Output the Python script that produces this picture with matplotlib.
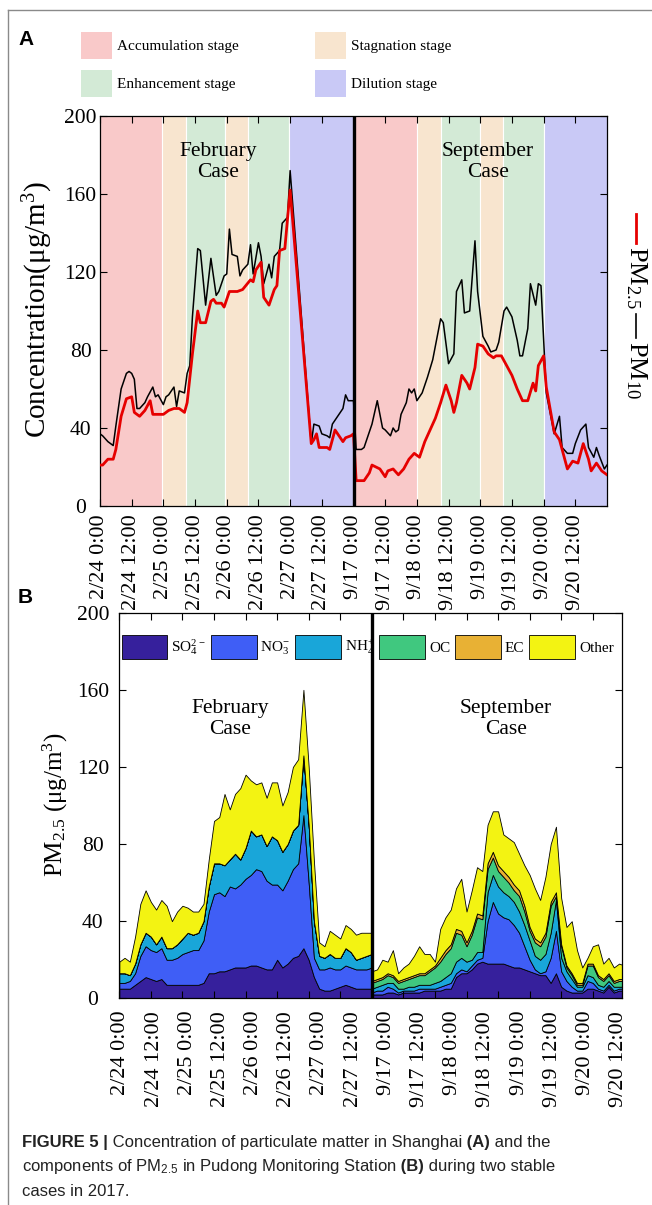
import numpy as np
import matplotlib
matplotlib.use('Agg')
import matplotlib.pyplot as plt
from matplotlib import font_manager
from matplotlib.patches import Patch
from matplotlib.lines import Line2D

W, H = 652, 1205

plt.rcParams['font.family'] = ['Liberation Serif', 'DejaVu Serif']
plt.rcParams['mathtext.default'] = 'regular'

# hour 0 = 2/24 0:00, hour 96 = 9/17 0:00 (two cases glued together)
tick_labels = ['2/24 0:00', '2/24 12:00', '2/25 0:00', '2/25 12:00', '2/26 0:00',
               '2/26 12:00', '2/27 0:00', '2/27 12:00', '9/17 0:00', '9/17 12:00',
               '9/18 0:00', '9/18 12:00', '9/19 0:00', '9/19 12:00', '9/20 0:00',
               '9/20 12:00']

# ---- panel A: PM10 / PM2.5 concentration
pm10_h = [0, 1, 3, 5, 6, 8, 9, 10, 11, 12, 13, 14, 15, 17, 18, 20, 21, 22, 24, 25,
          26, 28, 29, 30, 32, 33, 34, 35, 37, 38, 40, 42, 44, 45, 47, 48, 49, 50, 52, 53,
          54, 56, 57, 58, 60, 61, 62, 64, 65, 66, 68, 69, 71, 72, 80, 81, 83, 84, 86, 87,
          88, 90, 92, 93, 94, 96,
          97, 99, 100, 101, 103, 105, 106, 107, 108, 110, 111, 112, 113, 114, 116, 117,
          118, 119, 120, 122, 124, 126, 127, 129, 130, 132, 134, 135, 137, 138, 140, 141,
          142, 143, 145, 147, 148, 150, 151, 153, 154, 156, 158, 159, 160, 162, 163, 165,
          166, 167, 169, 172, 174, 175, 177, 179, 180, 182, 184, 185, 187, 188, 189, 191, 192]
pm10 = [37, 36, 33, 31, 41, 60, 64, 68, 69, 68, 65, 50, 50, 53, 56, 61, 56, 57, 52, 56,
        57, 61, 51, 59, 58, 68, 72, 97, 132, 131, 103, 127, 108, 110, 118, 119, 142, 129, 128, 118,
        121, 124, 134, 119, 135, 128, 114, 124, 117, 128, 131, 145, 148, 172, 32, 42, 41, 37, 36, 35,
        42, 46, 50, 57, 54, 54,
        29, 29, 30, 34, 42, 54, 47, 40, 39, 36, 40, 38, 39, 47, 53, 60,
        58, 60, 54, 58, 66, 75, 82, 96, 94, 73, 78, 110, 116, 99, 100, 118,
        136, 110, 87, 82, 79, 80, 84, 100, 102, 97, 85, 77, 77, 91, 114, 103,
        114, 113, 58, 37, 46, 30, 27, 27, 32, 39, 42, 30, 25, 30, 26, 19, 21]

pm25_h = [0, 1, 3, 5, 6, 8, 10, 12, 13, 15, 17, 19, 20, 22, 24, 26, 28, 30, 32, 33,
          35, 37, 38, 40, 42, 43, 44, 46, 47, 49, 52, 54, 57, 58, 59, 61, 62, 64, 66, 67,
          68, 70, 72, 80, 81, 82, 83, 85, 86, 87, 89, 90, 92, 93, 95, 96,
          97, 100, 102, 103, 106, 108, 109, 111, 113, 115, 117, 119, 121, 123, 125, 127,
          129, 131, 133, 134, 135, 137, 139, 140, 142, 143, 145, 147, 149, 150, 152, 154,
          156, 158, 160, 162, 164, 165, 166, 168, 169, 172, 174, 177, 179, 181, 183, 185,
          186, 188, 190, 192]
pm25 = [21, 21, 24, 24, 29, 46, 55, 56, 48, 46, 49, 54, 47, 47, 47, 49, 50, 50, 48, 53,
        78, 100, 94, 94, 105, 106, 104, 104, 102, 110, 110, 111, 116, 115, 121, 125, 107, 103, 111, 113,
        131, 132, 162, 32, 34, 37, 30, 30, 30, 29, 39, 37, 33, 35, 36, 37,
        13, 13, 17, 21, 19, 15, 18, 19, 16, 19, 24, 27, 25, 33, 39, 45,
        53, 62, 54, 48, 53, 67, 63, 60, 71, 83, 82, 78, 76, 77, 77, 72,
        67, 60, 54, 54, 63, 59, 72, 77, 61, 38, 34, 19, 23, 22, 32, 24,
        18, 22, 18, 16]

stage_start = [0, 23.5, 32.5, 47.5, 56, 71.5, 96, 120, 129, 144, 152.5, 168]
stage_end = [23.5, 32.5, 47.5, 56, 71.5, 96, 120, 129, 144, 152.5, 168, 192]
stage_kind = ['acc', 'stag', 'enh', 'stag', 'enh', 'dil'] * 2
stage_colors = {'acc': '#f9c9c9', 'stag': '#f8e5cf', 'enh': '#d3ead6', 'dil': '#c9c9f6'}
stage_names = {'acc': 'Accumulation stage', 'enh': 'Enhancement stage',
               'stag': 'Stagnation stage', 'dil': 'Dilution stage'}

# ---- panel B: PM2.5 components, every 2 h
feb_hours = np.arange(0, 97, 2)
sep_hours = np.arange(96, 193, 2)

feb_so4 = [5, 5, 5, 7, 9, 11, 10, 9, 10, 7, 7, 7, 7, 7, 7, 7, 8, 13, 13, 14, 14, 15, 16, 16,
           16, 17, 17, 16, 15, 15, 20, 16, 18, 21, 22, 26, 20, 11, 5, 4, 4, 5, 6, 7, 6, 5, 5, 5, 5]
feb_no3 = [3, 3, 4, 6, 13, 16, 15, 15, 16, 13, 13, 14, 16, 17, 18, 18, 22, 32, 41, 41, 39, 43, 41, 43,
           46, 47, 50, 50, 46, 44, 39, 40, 43, 46, 48, 69, 40, 10, 10, 11, 12, 10, 9, 10, 10, 10, 10, 10, 11]
feb_nh4 = [5, 5, 3, 5, 6, 7, 7, 4, 6, 6, 6, 7, 8, 10, 8, 9, 10, 13, 16, 15, 16, 14, 18, 13,
           16, 23, 17, 19, 18, 25, 23, 20, 19, 20, 20, 31, 30, 19, 7, 6, 7, 6, 6, 9, 8, 5, 6, 7, 7]
feb_oc = [0] * 49
feb_ec = [0] * 49
feb_other = [6, 8, 7, 14, 21, 22, 18, 18, 19, 22, 14, 17, 17, 13, 12, 11, 9, 14, 22, 24, 37, 26, 31, 37,
             38, 26, 27, 27, 25, 28, 30, 24, 27, 33, 34, 34, 30, 31, 7, 6, 12, 12, 10, 12, 12, 13, 13, 12, 11]

sep_so4 = [2, 2, 2, 3, 3, 2, 3, 3, 3, 3, 4, 4, 4, 4, 5, 5, 11, 13, 13, 15, 18, 19, 18, 18,
           18, 18, 17, 16, 16, 15, 14, 13, 12, 12, 8, 13, 6, 4, 3, 3, 3, 5, 5, 4, 3, 6, 3, 4, 4]
sep_no3 = [1, 2, 2, 3, 2, 1, 1, 1, 1, 2, 1, 1, 1, 2, 2, 3, 2, 2, 1, 2, 2, 2, 22, 32,
           26, 24, 24, 22, 18, 12, 6, 2, 1, 2, 13, 22, 8, 5, 3, 1, 1, 4, 3, 1, 1, 1, 1, 1, 1]
sep_nh4 = [2, 2, 3, 2, 3, 2, 1, 2, 2, 2, 2, 2, 3, 3, 4, 5, 6, 6, 5, 3, 4, 3, 15, 14,
           14, 13, 12, 12, 11, 11, 10, 7, 7, 9, 13, 16, 7, 5, 4, 2, 2, 3, 3, 2, 2, 2, 2, 1, 1]
sep_oc = [3, 3, 3, 4, 3, 3, 4, 4, 5, 5, 5, 7, 8, 10, 12, 13, 15, 12, 8, 13, 18, 17, 12, 9,
          8, 8, 7, 6, 8, 7, 5, 7, 7, 9, 14, 2, 6, 2, 2, 1, 1, 5, 6, 4, 3, 3, 2, 3, 3]
sep_ec = [1] * 13 + [2] * 9 + [3] * 8 + [2] * 6 + [1] * 13
sep_other = [5, 5, 9, 6, 13, 4, 6, 7, 10, 14, 10, 8, 2, 15, 17, 18, 21, 27, 16, 21, 24, 23, 20, 21,
             28, 19, 20, 22, 19, 21, 27, 26, 22, 29, 30, 34, 24, 20, 27, 17, 8, 3, 9, 16, 8, 8, 7, 8, 7]

comp_labels = [r'SO$_4^{2-}$', r'NO$_3^{-}$', r'NH$_4^{+}$', 'OC', 'EC', 'Other']
comp_colors = ['#36209c', '#3f5ef6', '#19a6d9', '#40c87f', '#e8b134', '#f3f312']


def fx(px):
    return px / W


def fy(py):
    return 1 - py / H


fig = plt.figure(figsize=(W / 100, H / 100), dpi=100)

# page frame of the figure box
fig.add_artist(Line2D([fx(8), fx(8)], [fy(10), 0], color='#8a8a8a', lw=1))
fig.add_artist(Line2D([fx(8), 1], [fy(10), fy(10)], color='#8a8a8a', lw=1))

fig.text(fx(18), fy(45), 'A', fontsize=15, fontweight='bold', family='Liberation Sans', va='baseline')
fig.text(fx(18), fy(603), 'B', fontsize=15, fontweight='bold', family='Liberation Sans', va='baseline')

# ------------------------------------------------------------------ panel A
axa = fig.add_axes([fx(100), fy(506), (607 - 100) / W, (506 - 116) / H])
for a, b, k in zip(stage_start, stage_end, stage_kind):
    axa.axvspan(a, b, facecolor=stage_colors[k], edgecolor='white', lw=0.8, zorder=0)
axa.plot(pm10_h, pm10, color='black', lw=1.1, zorder=3)
axa.plot(pm25_h, pm25, color='#e60000', lw=2.0, zorder=3)
axa.axvline(96, color='black', lw=2.4, zorder=4)
axa.set_xlim(0, 192)
axa.set_ylim(0, 200)
axa.set_yticks(np.arange(0, 201, 40))
axa.set_xticks(np.arange(0, 192, 12), tick_labels, rotation=90)
axa.tick_params(direction='in', top=True, right=True, length=5, width=0.8)
axa.tick_params(axis='y', labelsize=15.5, pad=14)
axa.tick_params(axis='x', labelsize=16, pad=6)
for lab in axa.get_yticklabels():
    lab.set_horizontalalignment('center')
for s in axa.spines.values():
    s.set_linewidth(0.9)
axa.text(44.7, 176.5, 'February\nCase', ha='center', va='center', fontsize=15.5, linespacing=1.15)
axa.text(147, 176.5, 'September\nCase', ha='center', va='center', fontsize=15.5, linespacing=1.15)

fig.text(fx(38), fy(309), 'Concentration(μg/m$^3$)', rotation=90, ha='center', va='center', fontsize=21)

stage_handles = [Patch(facecolor=stage_colors[k]) for k in ['acc', 'enh', 'stag', 'dil']]
fig.legend(stage_handles, [stage_names[k] for k in ['acc', 'enh', 'stag', 'dil']],
           loc='upper left', bbox_to_anchor=(fx(81), fy(32)), ncol=2, frameon=False,
           borderpad=0, borderaxespad=0, fontsize=11, handlelength=2.0, handleheight=2.35,
           handletextpad=0.35, labelspacing=0.7, columnspacing=5.0)

# rotated line key on the right of panel A
fig.add_artist(Line2D([fx(636), fx(636)], [fy(214), fy(243)], color='#e60000', lw=2))
fig.text(fx(636), fy(246), 'PM$_{2.5}$', rotation=-90, ha='center', va='top', fontsize=19)
fig.add_artist(Line2D([fx(636), fx(636)], [fy(314), fy(338)], color='black', lw=1.2))
fig.text(fx(636), fy(341), 'PM$_{10}$', rotation=-90, ha='center', va='top', fontsize=19)

# ------------------------------------------------------------------ panel B
axb = fig.add_axes([fx(119.3), fy(998.3), (621.7 - 119.3) / W, (998.3 - 612.7) / H])
axb.stackplot(feb_hours, feb_so4, feb_no3, feb_nh4, feb_oc, feb_ec, feb_other,
              colors=comp_colors, edgecolor='black', linewidth=0.6, labels=comp_labels)
axb.stackplot(sep_hours, sep_so4, sep_no3, sep_nh4, sep_oc, sep_ec, sep_other,
              colors=comp_colors, edgecolor='black', linewidth=0.6)
axb.axvline(96, color='black', lw=2.4, zorder=4)
axb.set_xlim(0, 191)
axb.set_ylim(0, 200)
axb.set_yticks(np.arange(0, 201, 40))
axb.set_xticks(np.arange(0, 191, 12), [''] * 16)
axb.set_xticks(np.linspace(0.6, 189.8, 16), tick_labels, minor=True, rotation=90)
axb.tick_params(direction='in', top=True, right=True, length=5, width=0.8)
axb.tick_params(axis='x', which='minor', length=0, top=False, labelsize=16, pad=9)
axb.tick_params(axis='y', labelsize=15.5, pad=19)
for lab in axb.get_yticklabels():
    lab.set_horizontalalignment('center')
for s in axb.spines.values():
    s.set_linewidth(0.9)
axb.text(42, 144.7, 'February\nCase', ha='center', va='center', fontsize=15.5, linespacing=1.15)
axb.text(146.9, 144.7, 'September\nCase', ha='center', va='center', fontsize=15.5, linespacing=1.15)
axb.legend(loc='upper left', bbox_to_anchor=(fx(121.5), fy(635)), bbox_transform=fig.transFigure,
           ncol=6, frameon=False, borderpad=0, borderaxespad=0, fontsize=11, handlelength=3.0,
           handleheight=2.0, handletextpad=0.25, columnspacing=0.33)

fig.text(fx(55), fy(805), 'PM$_{2.5}$ (μg/m$^3$)', rotation=90, ha='center', va='center', fontsize=18)

# ------------------------------------------------------------------ caption
names = {f.name for f in font_manager.fontManager.ttflist}
if 'Liberation Sans Narrow' in names:
    cap_family, cap_size = 'Liberation Sans Narrow', 13.5
else:
    cap_family, cap_size = 'Liberation Sans', 12

caption = [
    (1147, [('FIGURE 5 |', True), (' Concentration of particulate matter in Shanghai', False),
            (' (A)', True), (' and the', False)]),
    (1171.5, [('components of PM$_{2.5}$ in Pudong Monitoring Station', False), (' (B)', True),
              (' during two stable', False)]),
    (1196, [('cases in 2017.', False)]),
]
fig.canvas.draw()
renderer = fig.canvas.get_renderer()
for ypx, pieces in caption:
    x = fx(22)
    for txt, bold in pieces:
        t = fig.text(x, fy(ypx), txt, family=cap_family, fontsize=cap_size,
                     fontweight='bold' if bold else 'normal', va='baseline', ha='left', color='#222222')
        x += t.get_window_extent(renderer).width / W

fig.savefig('out.png', dpi=100)
